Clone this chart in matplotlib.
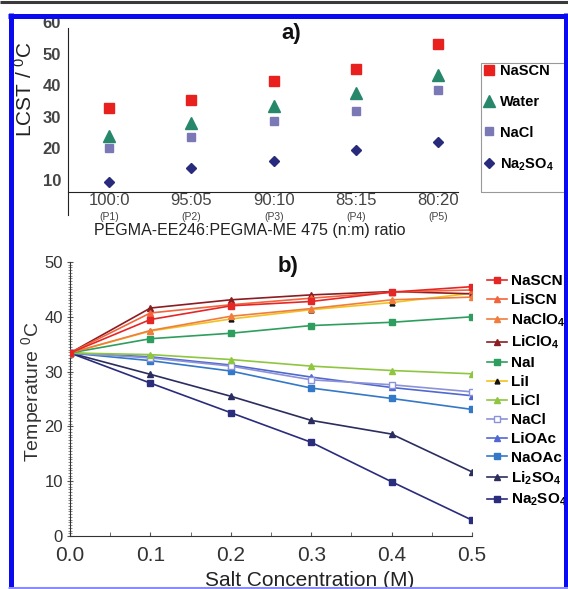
import matplotlib
matplotlib.use('Agg')
import matplotlib.pyplot as plt
from matplotlib.lines import Line2D
from matplotlib.patches import Rectangle
from matplotlib.ticker import MultipleLocator
import matplotlib.transforms as mtransforms

plt.rcParams['font.family'] = ['Liberation Sans', 'DejaVu Sans']
plt.rcParams['mathtext.fontset'] = 'custom'
plt.rcParams['mathtext.rm'] = 'Liberation Sans'
plt.rcParams['mathtext.bf'] = 'Liberation Sans:bold'
plt.rcParams['mathtext.it'] = 'Liberation Sans:italic'

# ---------------- panel a data ----------------
ratios = ['100:0', '95:05', '90:10', '85:15', '80:20']
polymers = ['(P1)', '(P2)', '(P3)', '(P4)', '(P5)']
lcst_nascn = [32.8, 35.3, 41.3, 45.1, 53.0]
lcst_water = [23.9, 28.0, 33.4, 37.5, 43.2]
lcst_nacl = [20.1, 23.6, 28.6, 31.8, 38.5]
lcst_na2so4 = [9.4, 13.8, 16.0, 19.5, 22.0]
names_a = ['NaSCN', 'Water', 'NaCl', r'Na$_\mathbf{2}$SO$_\mathbf{4}$']

# ---------------- panel b data ----------------
conc = [0.0, 0.1, 0.2, 0.3, 0.4, 0.5]
t_nascn = [33.4, 39.5, 42.0, 42.8, 44.5, 45.5]
t_liscn = [33.4, 40.7, 42.2, 43.4, 44.5, 44.9]
t_naclo4 = [33.4, 37.5, 40.1, 41.5, 43.1, 43.6]
t_liclo4 = [33.4, 41.6, 43.1, 44.0, 44.6, 44.2]
t_nai = [33.4, 36.0, 37.0, 38.4, 39.0, 40.0]
t_lii = [33.4, 37.4, 39.6, 41.3, 42.6, 44.3]
t_licl = [33.4, 33.1, 32.2, 31.0, 30.2, 29.6]
t_nacl = [33.4, 32.5, 31.0, 28.5, 27.6, 26.3]
t_lioac = [33.4, 32.7, 31.2, 29.0, 27.1, 25.6]
t_naoac = [33.4, 32.0, 30.1, 27.0, 25.1, 23.1]
t_li2so4 = [33.4, 29.5, 25.5, 21.1, 18.6, 11.7]
t_na2so4 = [33.4, 27.9, 22.5, 17.1, 9.9, 2.9]
names_b = ['NaSCN', 'LiSCN', r'NaClO$_\mathbf{4}$', r'LiClO$_\mathbf{4}$', 'NaI', 'LiI',
           'LiCl', 'NaCl', 'LiOAc', 'NaOAc', r'Li$_\mathbf{2}$SO$_\mathbf{4}$',
           r'Na$_\mathbf{2}$SO$_\mathbf{4}$']

W, H = 568, 589
fig = plt.figure(figsize=(W / 100, H / 100), dpi=100)


def fx(px):
    return px / W


def fy(py):
    return 1 - py / H


# ================= panel a =================
axa = fig.add_axes([fx(68), fy(192), fx(458) - fx(68), fy(22) - fy(192)])
xa = list(range(len(ratios)))
axa.plot(xa, lcst_nascn, 's', color='#e8211f', ms=7.5, label=names_a[0])
axa.plot(xa, lcst_water, '^', color='#27876a', ms=8, label=names_a[1])
axa.plot(xa, lcst_nacl, 's', color='#7b78b6', ms=5.8, label=names_a[2])
axa.plot(xa, lcst_na2so4, 'D', color='#282a7c', ms=5, label=names_a[3])
axa.set_xlim(-0.5, 4.24)
axa.set_ylim(6.2, 60)
axa.set_yticks([10, 20, 30, 40, 50, 60])
axa.set_xticks(xa)
axa.set_xticklabels(ratios, fontsize=12, color='#444444')
axa.tick_params(axis='x', length=0, pad=1)
axa.tick_params(axis='y', length=0, pad=5, labelsize=12, labelcolor='#444444')
for lab in axa.get_yticklabels():
    lab.set_fontweight('bold')
for s in ['top', 'right']:
    axa.spines[s].set_visible(False)
axa.spines['left'].set_bounds(-1.1, 58)
axa.spines['left'].set_color('#222222')
axa.spines['bottom'].set_color('#222222')
blend = mtransforms.blended_transform_factory(axa.transData, fig.transFigure)
for i, p in enumerate(polymers):
    axa.text(i, fy(217), p, transform=blend, ha='center', va='center',
             fontsize=7.5, color='#444444')
fig.text(fx(250), fy(230), 'PEGMA-EE246:PEGMA-ME 475 (n:m) ratio',
         ha='center', va='center', fontsize=11.5, color='#222222')
fig.text(fx(25), fy(89), r'LCST / $^{0}$C', rotation=90, ha='center', va='center',
         fontsize=15, color='#222222')
fig.text(fx(291), fy(33), 'a)', ha='center', va='center', fontsize=16,
         fontweight='bold', color='#111111')

# legend a (frame drawn separately)
fig.patches.append(Rectangle((fx(481), fy(192)), fx(100), fy(63) - fy(192),
                             transform=fig.transFigure, fill=False,
                             edgecolor='#999999', lw=0.8, zorder=5))
ha_, la_ = axa.get_legend_handles_labels()
leg_a = fig.legend(ha_, la_, loc='upper left', bbox_to_anchor=(fx(483), fy(64)),
                   frameon=False, prop={'weight': 'bold', 'size': 10.5},
                   handlelength=0.8, handletextpad=0.35, labelspacing=1.15,
                   borderpad=0, borderaxespad=0)

# ================= panel b =================
axb = fig.add_axes([fx(70), fy(536), fx(472) - fx(70), fy(262) - fy(536)])
series_b = [t_nascn, t_liscn, t_naclo4, t_liclo4, t_nai, t_lii, t_licl,
            t_nacl, t_lioac, t_naoac, t_li2so4, t_na2so4]
styles_b = [
    dict(color='#e52626', marker='s', ms=4.5),
    dict(color='#f3633c', marker='^', ms=4.5),
    dict(color='#f07d3c', marker='^', ms=4.5),
    dict(color='#8a1c22', marker='^', ms=4.5),
    dict(color='#2e9e5e', marker='s', ms=4.5),
    dict(color='#f2c21e', marker='^', ms=3.5, mfc='#111111', mec='#111111'),
    dict(color='#8fc640', marker='^', ms=4.5),
    dict(color='#8c92d8', marker='s', ms=4.5, mfc='white'),
    dict(color='#5068d0', marker='^', ms=4.5),
    dict(color='#3478c8', marker='s', ms=4.5),
    dict(color='#2b2d5e', marker='^', ms=4.5),
    dict(color='#2a2c7c', marker='s', ms=4.5),
]
handles_b = [None] * len(series_b)
order = list(range(len(series_b)))[::-1]
for k in order:
    ln, = axb.plot(conc, series_b[k], lw=1.2, label=names_b[k],
                   zorder=3 + (len(series_b) - k) * 0.01, **styles_b[k])
    handles_b[k] = ln
axb.set_xlim(0, 0.5)
axb.set_ylim(0, 50)
axb.set_xticks(conc)
axb.set_xticklabels(['%.1f' % c for c in conc])
axb.set_yticks([0, 10, 20, 30, 40, 50])
axb.xaxis.set_minor_locator(MultipleLocator(0.05))
axb.yaxis.set_minor_locator(MultipleLocator(0.5))
axb.tick_params(axis='x', which='both', direction='in', length=3, pad=7,
                labelsize=15, labelcolor='#333333', color='#555555')
axb.tick_params(axis='y', which='major', direction='inout', length=4, pad=3,
                labelsize=12, labelcolor='#333333', color='#555555')
axb.tick_params(axis='y', which='minor', direction='inout', length=2.5,
                color='#777777', width=0.6)
for s in ['top', 'right']:
    axb.spines[s].set_visible(False)
axb.spines['left'].set_color('#333333')
axb.spines['bottom'].set_color('#333333')
fig.text(fx(32), fy(392), r'Temperature $^{0}$C', rotation=90, ha='center',
         va='center', fontsize=14, color='#333333')
fig.text(fx(310), fy(581), 'Salt Concentration (M)', ha='center', va='center',
         fontsize=15, color='#222222')
fig.text(fx(288), fy(267), 'b)', ha='center', va='center', fontsize=16,
         fontweight='bold', color='#111111')

leg_b = fig.legend(handles_b, names_b, loc='upper left',
                   bbox_to_anchor=(fx(487), fy(274)), frameon=False,
                   prop={'weight': 'bold', 'size': 11}, handlelength=1.3,
                   handletextpad=0.3, labelspacing=0.32, borderpad=0,
                   borderaxespad=0)

# ---------------- outer decoration ----------------
def fig_line(x0, y0, x1, y1, color, lw):
    fig.lines.append(Line2D([fx(x0), fx(x1)], [fy(y0), fy(y1)],
                            transform=fig.transFigure, color=color, lw=lw,
                            zorder=20, solid_capstyle='butt'))

fig_line(0, 1.5, W, 1.5, '#3a3a3a', 2.2)
fig_line(10.5, 13, 10.5, H, '#0a0af0', 3.6)
fig_line(8, 15.5, W, 15.5, '#0a0af0', 3.6)
fig_line(565.5, 13, 565.5, H, '#0a0af0', 3.6)
fig_line(8, 587.5, W, 587.5, '#8a8aff', 2.2)

fig.savefig('out.png', dpi=100)
